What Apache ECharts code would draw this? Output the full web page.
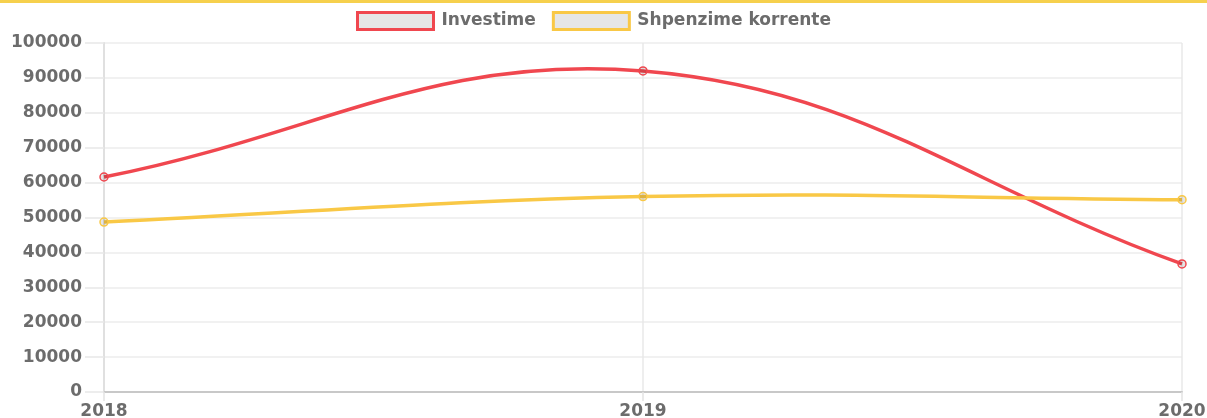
<!DOCTYPE html>
<html>
<head>
<meta charset="utf-8">
<script src="https://cdn.jsdelivr.net/npm/echarts@6/dist/echarts.min.js"></script>
<style>
html,body{margin:0;padding:0;background:#fff;}
#chart{width:1207px;height:418px;}
</style>
</head>
<body>
<div id="chart"></div>
<script>
const categories = ['2018', '2019', '2020'];
const investime = [61600, 92000, 36700];
const shpenzime = [48700, 56000, 55100];
const seriesNames = ['Investime', 'Shpenzime korrente'];
const seriesColors = ['#f0474f', '#f9c846'];

const FONT = 'DejaVu Sans';
const TEXT_COLOR = '#6c6c6c';
const TENSION = 0.4;
const chart = echarts.init(document.getElementById('chart'), null, {renderer: 'canvas'});

// Bezier curve through the data points (control points derived from the
// neighbouring pixel positions given by the library's scales).
function curveSeries(name, values, color) {
  return {
    name: name,
    type: 'custom',
    coordinateSystem: 'cartesian2d',
    silent: true,
    data: values.map((v, i) => [i, v]),
    encode: {x: 0, y: 1},
    renderItem: function (params, api) {
      if (params.dataIndex !== 0) return null;
      const pts = values.map((v, i) => api.coord([i, v]));
      const n = pts.length;
      const cps = pts.map((p, i) => {
        const prev = pts[Math.max(0, i - 1)];
        const next = pts[Math.min(n - 1, i + 1)];
        const d01 = Math.hypot(p[0] - prev[0], p[1] - prev[1]);
        const d12 = Math.hypot(next[0] - p[0], next[1] - p[1]);
        let s01 = d01 / (d01 + d12), s12 = d12 / (d01 + d12);
        if (!isFinite(s01)) s01 = 0;
        if (!isFinite(s12)) s12 = 0;
        const fa = TENSION * s01, fb = TENSION * s12;
        return {
          prev: [p[0] - fa * (next[0] - prev[0]), p[1] - fa * (next[1] - prev[1])],
          next: [p[0] + fb * (next[0] - prev[0]), p[1] + fb * (next[1] - prev[1])]
        };
      });
      let d = 'M' + pts[0][0] + ' ' + pts[0][1];
      for (let i = 1; i < n; i++) {
        const c1 = cps[i - 1].next, c2 = cps[i].prev;
        d += ' C' + c1[0] + ' ' + c1[1] + ' ' + c2[0] + ' ' + c2[1] + ' ' + pts[i][0] + ' ' + pts[i][1];
      }
      return {
        type: 'path',
        shape: {pathData: d},
        style: {stroke: color, lineWidth: 3.5, fill: null, lineJoin: 'round'}
      };
    }
  };
}

function pointSeries(name, values, color) {
  return {
    name: name,
    type: 'line',
    data: values,
    symbol: 'circle',
    symbolSize: 8,
    lineStyle: {opacity: 0, width: 0},
    itemStyle: {color: 'rgba(0,0,0,0.1)', borderColor: color, borderWidth: 1.5},
    emphasis: {disabled: true},
    z: 3
  };
}

chart.setOption({
  animation: false,
  graphic: [{
    type: 'rect',
    shape: {x: 0, y: 0, width: 1207, height: 3},
    style: {fill: '#f6d04d'},
    silent: true
  }],
  legend: {
    top: 11,
    left: 356,
    padding: 0,
    icon: 'rect',
    itemWidth: 76,
    itemHeight: 17,
    itemGap: 16,
    textStyle: {fontFamily: FONT, fontWeight: 'bold', fontSize: 17, color: TEXT_COLOR, padding: [0, 0, 0, 3]},
    data: seriesNames.map((n, i) => ({
      name: n,
      itemStyle: {color: '#e6e6e6', borderColor: seriesColors[i], borderWidth: 3}
    }))
  },
  grid: {left: 104, right: 25, top: 43, bottom: 26, containLabel: false, outerBoundsMode: 'none'},
  xAxis: {
    type: 'category',
    data: categories,
    boundaryGap: false,
    axisLine: {show: true, lineStyle: {color: '#c8c8c8', width: 2}},
    axisTick: {show: true, length: 9, lineStyle: {color: '#e3e3e3', width: 1.5}},
    splitLine: {show: true, lineStyle: {color: '#e8e8e8', width: 1.5}},
    axisLabel: {fontFamily: FONT, fontWeight: 'bold', fontSize: 17, color: TEXT_COLOR, margin: 11}
  },
  yAxis: {
    type: 'value',
    min: 0,
    max: 100000,
    interval: 10000,
    axisLine: {show: true, lineStyle: {color: '#e0e0e0', width: 2}},
    axisTick: {show: true, length: 19, lineStyle: {color: '#e8e8e8', width: 1.5}},
    splitLine: {show: true, lineStyle: {color: '#ececec', width: 1.5}},
    axisLabel: {fontFamily: FONT, fontWeight: 'bold', fontSize: 17, color: TEXT_COLOR, margin: 22,
      formatter: function (v) { return String(v); }}
  },
  series: [
    curveSeries(seriesNames[0], investime, seriesColors[0]),
    curveSeries(seriesNames[1], shpenzime, seriesColors[1]),
    pointSeries(seriesNames[0], investime, seriesColors[0]),
    pointSeries(seriesNames[1], shpenzime, seriesColors[1])
  ]
});
</script>
</body>
</html>
